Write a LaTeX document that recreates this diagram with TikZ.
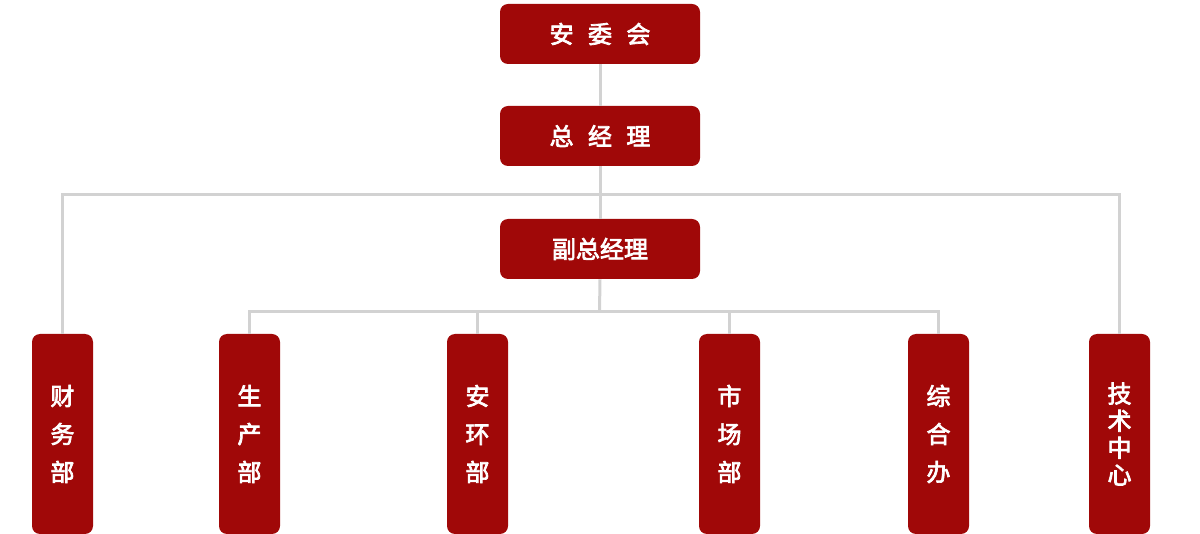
\documentclass[tikz,border=0pt]{standalone}
\usepackage{fontspec}
\newfontfamily\cjk[FakeBold=3]{Noto Sans CJK SC}
\definecolor{boxred}{HTML}{A00808}
\definecolor{linegray}{HTML}{D2D2D2}
\begin{document}
\begin{tikzpicture}[x=0.75pt,y=-0.75pt,
  topbox/.style={draw=none,fill=boxred,rounded corners=6pt,minimum width=150pt,minimum height=45pt,inner sep=0pt,text=white,font=\cjk\fontsize{18}{18}\selectfont},
  deptbox/.style={draw=none,fill=boxred,rounded corners=6pt,minimum width=45.75pt,minimum height=150pt,inner sep=0pt,text=white,align=center,font=\cjk\fontsize{18}{28.5}\selectfont},
  techbox/.style={deptbox,font=\cjk\fontsize{18}{20.3}\selectfont},
  conn/.style={draw=linegray,line width=2.25pt}]
\useasboundingbox (0,0) rectangle (1200,534);
\node[topbox] (anwei) at (600,34) {安\hspace{0.6em}委\hspace{0.6em}会};
\node[topbox] (zjl) at (600,136) {总\hspace{0.6em}经\hspace{0.6em}理};
\node[topbox] (fzjl) at (600,249) {副总经理};
\node[deptbox] (caiwu) at (62.5,434) {财\\务\\部};
\node[deptbox] (shengchan) at (249.5,434) {生\\产\\部};
\node[deptbox] (anhuan) at (477.5,434) {安\\环\\部};
\node[deptbox] (shichang) at (729.5,434) {市\\场\\部};
\node[deptbox] (zonghe) at (938.5,434) {综\\合\\办};
\node[techbox] (jishu) at (1119.5,434) {技\\术\\中\\心};
\coordinate (h1) at (599.5,195);
\coordinate (h2) at (599.5,312);
\draw[conn] (anwei.south) -- (zjl.north);
\draw[conn] (zjl.south) -- (fzjl.north);
\draw[conn] (caiwu.north) |- (h1) -| (jishu.north);
\draw[conn] (fzjl.south) -- (h2);
\draw[conn] (shengchan.north) |- (h2) -| (zonghe.north);
\draw[conn] (anhuan.north) -- (anhuan.north |- h2);
\draw[conn] (shichang.north) -- (shichang.north |- h2);
\end{tikzpicture}
\end{document}
